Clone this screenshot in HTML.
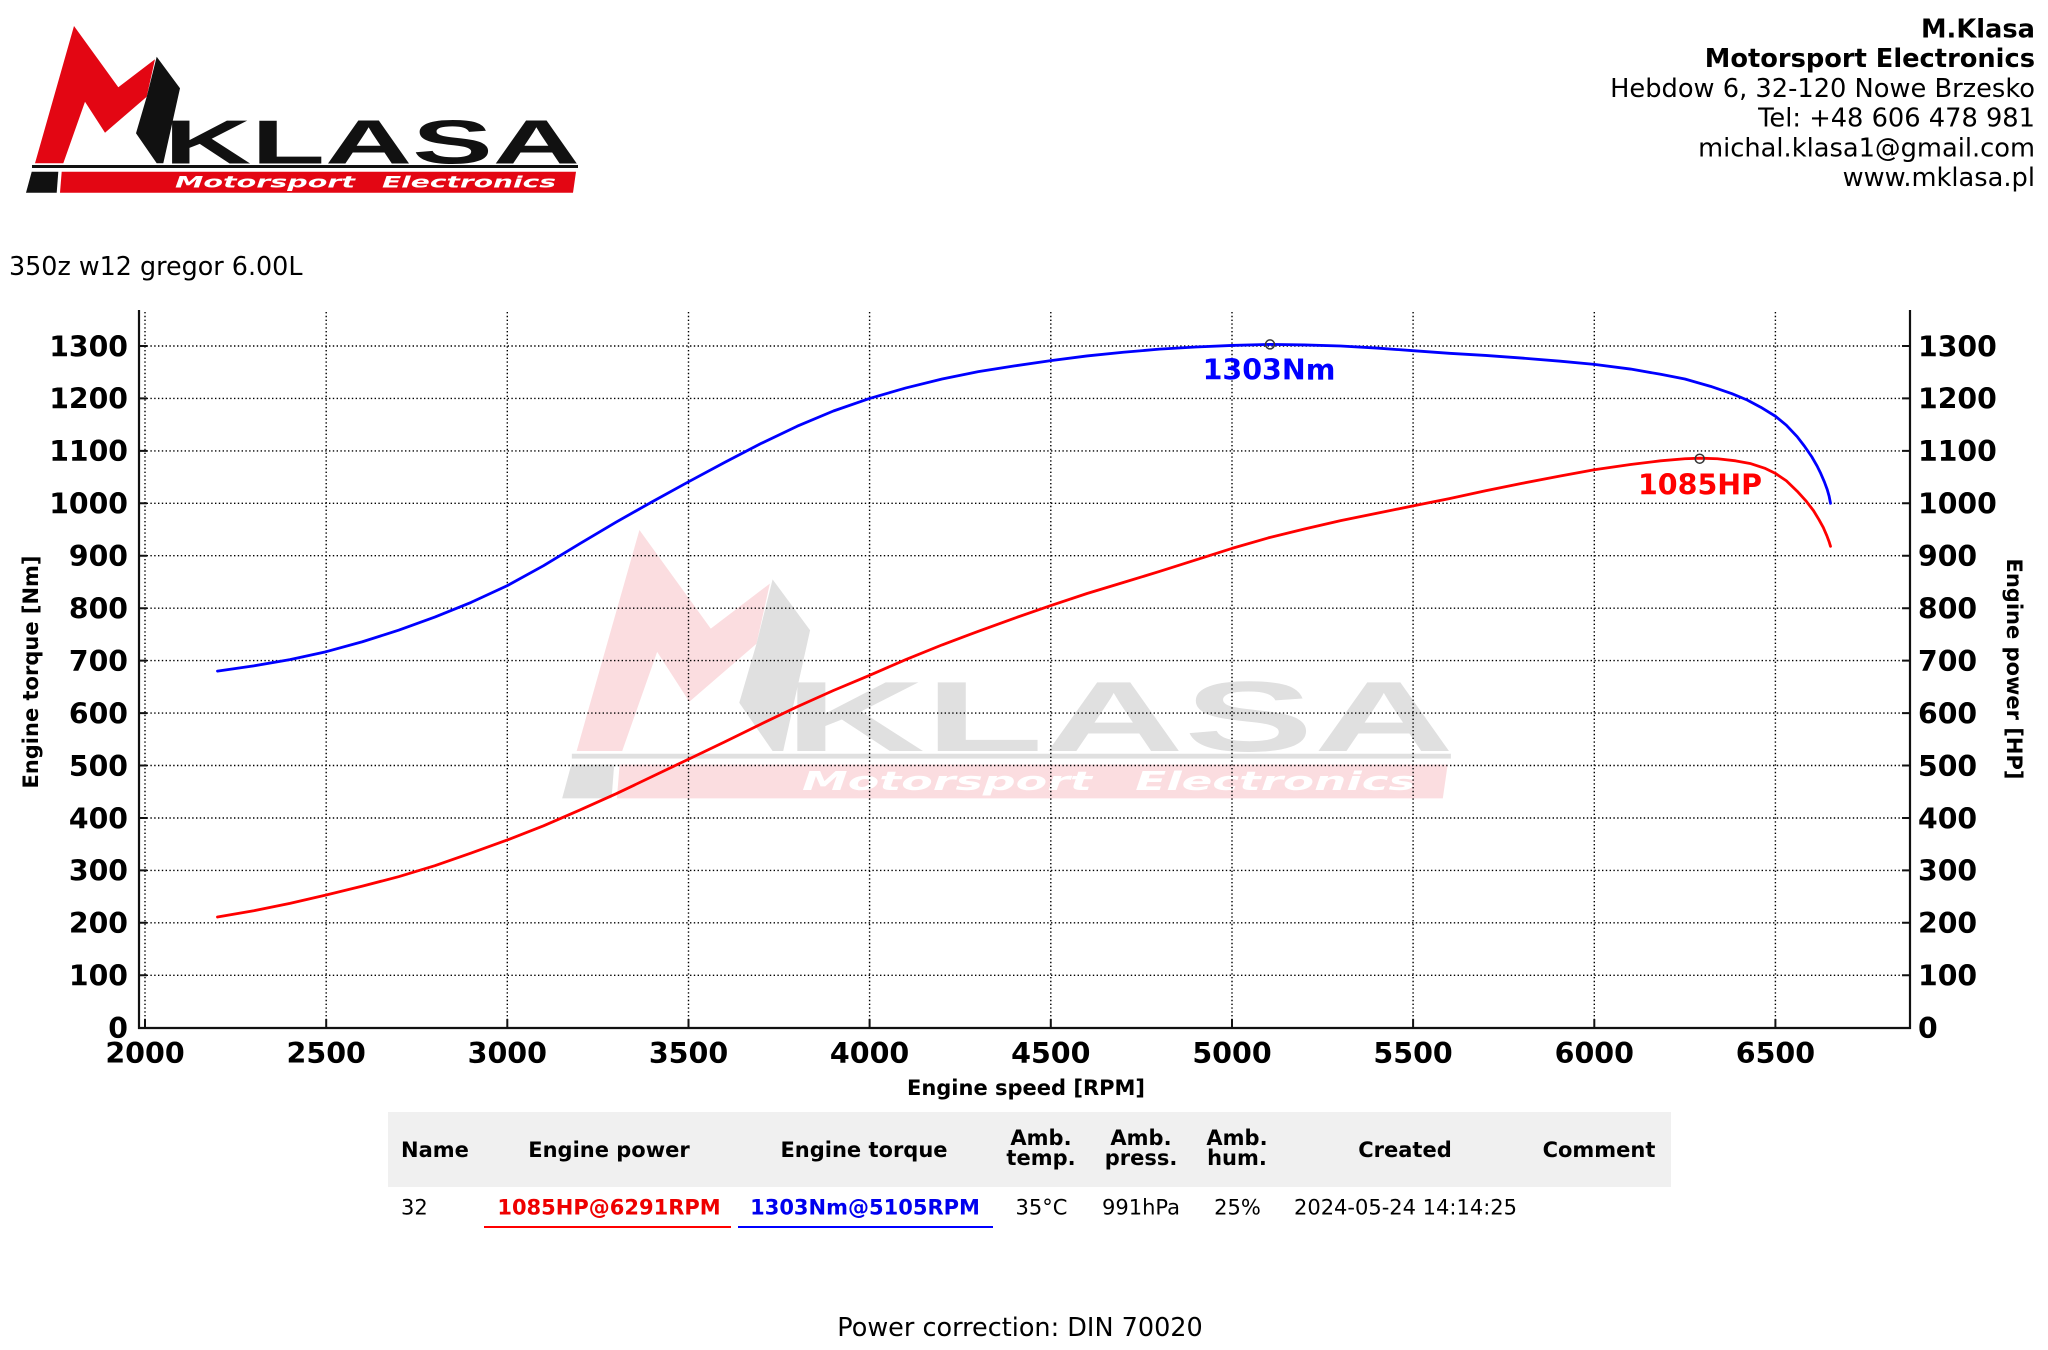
<!DOCTYPE html>
<html><head><meta charset="utf-8"><style>
html,body{margin:0;padding:0;background:#fff;}
svg{display:block;}
text{font-family:"DejaVu Sans","Liberation Sans",sans-serif;}
.b{font-weight:bold;}
</style></head><body>
<svg width="2048" height="1350" viewBox="0 0 2048 1350" xmlns="http://www.w3.org/2000/svg">
<rect width="2048" height="1350" fill="#fff"/>

<!-- Logo -->
<g>
<polygon fill="#e30613" points="35,163.3 74,26 118.3,87.3 155,59.3 146.7,96.7 105,132.7 85,101.7 63.3,163.3"/>
<polygon fill="#111" points="156.7,56.7 180,88.3 163.3,163.3 156.7,163.3 136,133.3 146.7,96.7"/>
<text x="164" y="163.3" font-size="62" class="b" fill="#111" textLength="416" lengthAdjust="spacingAndGlyphs" style="font-family:'Liberation Sans',sans-serif">KLASA</text>
<rect x="32" y="165" width="546" height="3" fill="#111"/>
<polygon fill="#111" points="26,192.7 31.7,171.7 58.3,171.7 56.7,192.7"/>
<polygon fill="#e30613" points="61.7,171.7 576,171.7 573,192.7 60,192.7"/>
<text x="175" y="187.5" font-size="16" font-weight="bold" font-style="italic" fill="#fff" textLength="180" lengthAdjust="spacingAndGlyphs">Motorsport</text>
<text x="382" y="187.5" font-size="16" font-weight="bold" font-style="italic" fill="#fff" textLength="174" lengthAdjust="spacingAndGlyphs">Electronics</text>
</g>

<!-- Header text -->
<g font-size="25.7" text-anchor="end" fill="#000">
<text x="2035" y="37.5" class="b">M.Klasa</text>
<text x="2035" y="67.2" class="b">Motorsport Electronics</text>
<text x="2035" y="96.9">Hebdow 6, 32-120 Nowe Brzesko</text>
<text x="2035" y="126.6">Tel: +48 606 478 981</text>
<text x="2035" y="156.3">michal.klasa1@gmail.com</text>
<text x="2035" y="186">www.mklasa.pl</text>
</g>
<text x="9" y="275" font-size="25.4" fill="#000">350z w12 gregor 6.00L</text>

<!-- Watermark -->
<g transform="matrix(1.61 0 0 1.61 520.3 488.1)">
<polygon fill="#fbdde0" points="35,163.3 74,26 118.3,87.3 155,59.3 146.7,96.7 105,132.7 85,101.7 63.3,163.3"/>
<polygon fill="#e0e0e0" points="156.7,56.7 180,88.3 163.3,163.3 156.7,163.3 136,133.3 146.7,96.7"/>
<text x="164" y="163.3" font-size="62" class="b" fill="#e0e0e0" textLength="416" lengthAdjust="spacingAndGlyphs" style="font-family:'Liberation Sans',sans-serif">KLASA</text>
<rect x="32" y="165" width="546" height="3" fill="#e0e0e0"/>
<polygon fill="#e0e0e0" points="26,192.7 31.7,171.7 58.3,171.7 56.7,192.7"/>
<polygon fill="#fbdde0" points="61.7,171.7 576,171.7 573,192.7 60,192.7"/>
<text x="175" y="187.5" font-size="16" font-weight="bold" font-style="italic" fill="#fff" textLength="180" lengthAdjust="spacingAndGlyphs">Motorsport</text>
<text x="382" y="187.5" font-size="16" font-weight="bold" font-style="italic" fill="#fff" textLength="174" lengthAdjust="spacingAndGlyphs">Electronics</text>
</g>

<!-- Grid -->
<g stroke="#000" stroke-width="1.4" stroke-dasharray="1.4 2.4" fill="none">
<line x1="139" y1="975.3" x2="1910" y2="975.3"/>
<line x1="139" y1="922.8" x2="1910" y2="922.8"/>
<line x1="139" y1="870.4" x2="1910" y2="870.4"/>
<line x1="139" y1="818.0" x2="1910" y2="818.0"/>
<line x1="139" y1="765.5" x2="1910" y2="765.5"/>
<line x1="139" y1="713.1" x2="1910" y2="713.1"/>
<line x1="139" y1="660.6" x2="1910" y2="660.6"/>
<line x1="139" y1="608.2" x2="1910" y2="608.2"/>
<line x1="139" y1="555.7" x2="1910" y2="555.7"/>
<line x1="139" y1="503.3" x2="1910" y2="503.3"/>
<line x1="139" y1="450.9" x2="1910" y2="450.9"/>
<line x1="139" y1="398.4" x2="1910" y2="398.4"/>
<line x1="139" y1="346.0" x2="1910" y2="346.0"/>
<line x1="145" y1="312" x2="145" y2="1028"/>
<line x1="326.2" y1="312" x2="326.2" y2="1028"/>
<line x1="507.3" y1="312" x2="507.3" y2="1028"/>
<line x1="688.5" y1="312" x2="688.5" y2="1028"/>
<line x1="869.6" y1="312" x2="869.6" y2="1028"/>
<line x1="1050.8" y1="312" x2="1050.8" y2="1028"/>
<line x1="1232" y1="312" x2="1232" y2="1028"/>
<line x1="1413.1" y1="312" x2="1413.1" y2="1028"/>
<line x1="1594.3" y1="312" x2="1594.3" y2="1028"/>
<line x1="1775.4" y1="312" x2="1775.4" y2="1028"/>
</g>

<!-- Spines -->
<g stroke="#111" stroke-width="2.2" fill="none">
<line x1="139" y1="310" x2="139" y2="1029"/>
<line x1="1910" y1="310" x2="1910" y2="1029"/>
<line x1="138" y1="1028" x2="1911" y2="1028"/>
</g>
<!-- Ticks -->
<g stroke="#111" stroke-width="2" fill="none">
<path d="M139 975.3h8M139 922.8h8M139 870.4h8M139 818h8M139 765.5h8M139 713.1h8M139 660.6h8M139 608.2h8M139 555.7h8M139 503.3h8M139 450.9h8M139 398.4h8M139 346h8"/>
<path d="M1910 975.3h-8M1910 922.8h-8M1910 870.4h-8M1910 818h-8M1910 765.5h-8M1910 713.1h-8M1910 660.6h-8M1910 608.2h-8M1910 555.7h-8M1910 503.3h-8M1910 450.9h-8M1910 398.4h-8M1910 346h-8"/>
<path d="M145 1028v-9M326.2 1028v-9M507.3 1028v-9M688.5 1028v-9M869.6 1028v-9M1050.8 1028v-9M1232 1028v-9M1413.1 1028v-9M1594.3 1028v-9M1775.4 1028v-9"/>
</g>

<!-- Curves -->
<g transform="translate(-579.64 1027.7) scale(0.36232 -0.5244)" fill="none" stroke-linejoin="round" stroke-linecap="round">
<polyline vector-effect="non-scaling-stroke" stroke="#0000ff" stroke-width="2.8" points="2200,680 2300,690 2400,702 2500,717 2600,736 2700,758 2800,783 2900,811 3000,843 3100,881 3200,923 3300,964 3400,1003 3500,1041 3600,1078 3700,1114 3800,1147 3900,1176 4000,1200 4100,1220 4200,1237 4300,1251 4400,1262 4500,1272 4600,1281 4700,1288 4800,1294 4900,1298 5000,1301 5105,1303 5200,1302 5300,1300 5400,1296 5500,1291 5600,1286 5700,1282 5800,1277 5906,1271 6000,1265 6100,1256 6183,1246 6250,1237 6321,1223 6380,1209 6422,1197 6460,1183 6500,1166 6530,1149 6560,1127 6580,1109 6600,1089 6615,1071 6625,1057 6635,1041 6643,1026 6648,1014 6652,1000"/>
<polyline vector-effect="non-scaling-stroke" stroke="#ff0000" stroke-width="2.8" points="2200,211 2300,223 2400,237 2500,253 2600,270 2700,288 2800,309 2900,333 3000,358 3100,385 3200,415 3300,446 3400,479 3500,512 3600,545 3700,579 3800,612 3900,643 4000,672 4100,702 4200,730 4300,756 4400,781 4500,805 4600,828 4700,849 4800,870 4900,892 5000,914 5100,934 5200,951 5300,967 5400,981 5500,995 5600,1009 5700,1024 5800,1038 5906,1052 6000,1064 6100,1074 6183,1081 6250,1085 6292,1086 6340,1085 6390,1081 6430,1076 6470,1067 6500,1057 6530,1043 6560,1023 6585,1004 6605,986 6620,969 6632,954 6642,938 6648,927 6652,918"/>
</g>
<circle cx="1270" cy="344.4" r="4.5" fill="none" stroke="#333" stroke-width="1.5"/>
<circle cx="1699.7" cy="458.7" r="4.5" fill="none" stroke="#333" stroke-width="1.5"/>
<text x="1269" y="379.5" font-size="28.5" class="b" fill="#0000ff" text-anchor="middle">1303Nm</text>
<text x="1700" y="494.5" font-size="28.5" class="b" fill="#ff0000" text-anchor="middle">1085HP</text>

<!-- Y tick labels left -->
<g font-size="28.3" class="b" fill="#000" text-anchor="end">
<text x="128" y="1038">0</text>
<text x="128" y="985.6">100</text>
<text x="128" y="933.1">200</text>
<text x="128" y="880.7">300</text>
<text x="128" y="828.3">400</text>
<text x="128" y="775.8">500</text>
<text x="128" y="723.4">600</text>
<text x="128" y="670.9">700</text>
<text x="128" y="618.5">800</text>
<text x="128" y="566">900</text>
<text x="128" y="513.6">1000</text>
<text x="128" y="461.2">1100</text>
<text x="128" y="408.7">1200</text>
<text x="128" y="356.3">1300</text>
</g>
<!-- Y tick labels right -->
<g font-size="28.3" class="b" fill="#000" text-anchor="start">
<text x="1918" y="1038">0</text>
<text x="1918" y="985.6">100</text>
<text x="1918" y="933.1">200</text>
<text x="1918" y="880.7">300</text>
<text x="1918" y="828.3">400</text>
<text x="1918" y="775.8">500</text>
<text x="1918" y="723.4">600</text>
<text x="1918" y="670.9">700</text>
<text x="1918" y="618.5">800</text>
<text x="1918" y="566">900</text>
<text x="1918" y="513.6">1000</text>
<text x="1918" y="461.2">1100</text>
<text x="1918" y="408.7">1200</text>
<text x="1918" y="356.3">1300</text>
</g>
<!-- X tick labels -->
<g font-size="28.5" class="b" fill="#000" text-anchor="middle">
<text x="145" y="1063">2000</text>
<text x="326.2" y="1063">2500</text>
<text x="507.3" y="1063">3000</text>
<text x="688.5" y="1063">3500</text>
<text x="869.6" y="1063">4000</text>
<text x="1050.8" y="1063">4500</text>
<text x="1232" y="1063">5000</text>
<text x="1413.1" y="1063">5500</text>
<text x="1594.3" y="1063">6000</text>
<text x="1775.4" y="1063">6500</text>
</g>

<!-- Axis labels -->
<text x="1026" y="1095" font-size="21" class="b" fill="#000" text-anchor="middle">Engine speed [RPM]</text>
<text transform="translate(38 672) rotate(-90)" font-size="21" class="b" fill="#000" text-anchor="middle">Engine torque [Nm]</text>
<text transform="translate(2007 669) rotate(90)" font-size="21" class="b" fill="#000" text-anchor="middle">Engine power [HP]</text>

<!-- Table -->
<rect x="388" y="1112" width="1283" height="75" fill="#f0f0f0"/>
<g font-size="21" class="b" fill="#000" text-anchor="middle">
<text x="401" y="1157" text-anchor="start">Name</text>
<text x="609" y="1157">Engine power</text>
<text x="864" y="1157">Engine torque</text>
<text x="1041" y="1145">Amb.</text>
<text x="1041" y="1165">temp.</text>
<text x="1141" y="1145">Amb.</text>
<text x="1141" y="1165">press.</text>
<text x="1237" y="1145">Amb.</text>
<text x="1237" y="1165">hum.</text>
<text x="1405" y="1157">Created</text>
<text x="1599" y="1157">Comment</text>
</g>
<g font-size="21" fill="#000" text-anchor="middle">
<text x="401" y="1214.5" text-anchor="start">32</text>
<text x="609" y="1214.5" class="b" fill="#ee0000">1085HP@6291RPM</text>
<text x="865" y="1214.5" class="b" fill="#0000ee">1303Nm@5105RPM</text>
<text x="1041.5" y="1214.5">35°C</text>
<text x="1141" y="1214.5">991hPa</text>
<text x="1237.5" y="1214.5">25%</text>
<text x="1405.5" y="1214.5">2024-05-24 14:14:25</text>
</g>
<rect x="484" y="1226" width="247" height="2" fill="#ff0000"/>
<rect x="738" y="1226" width="255" height="2" fill="#0000ff"/>

<text x="1020" y="1336" font-size="25.5" fill="#000" text-anchor="middle">Power correction: DIN 70020</text>
</svg>
</body></html>
